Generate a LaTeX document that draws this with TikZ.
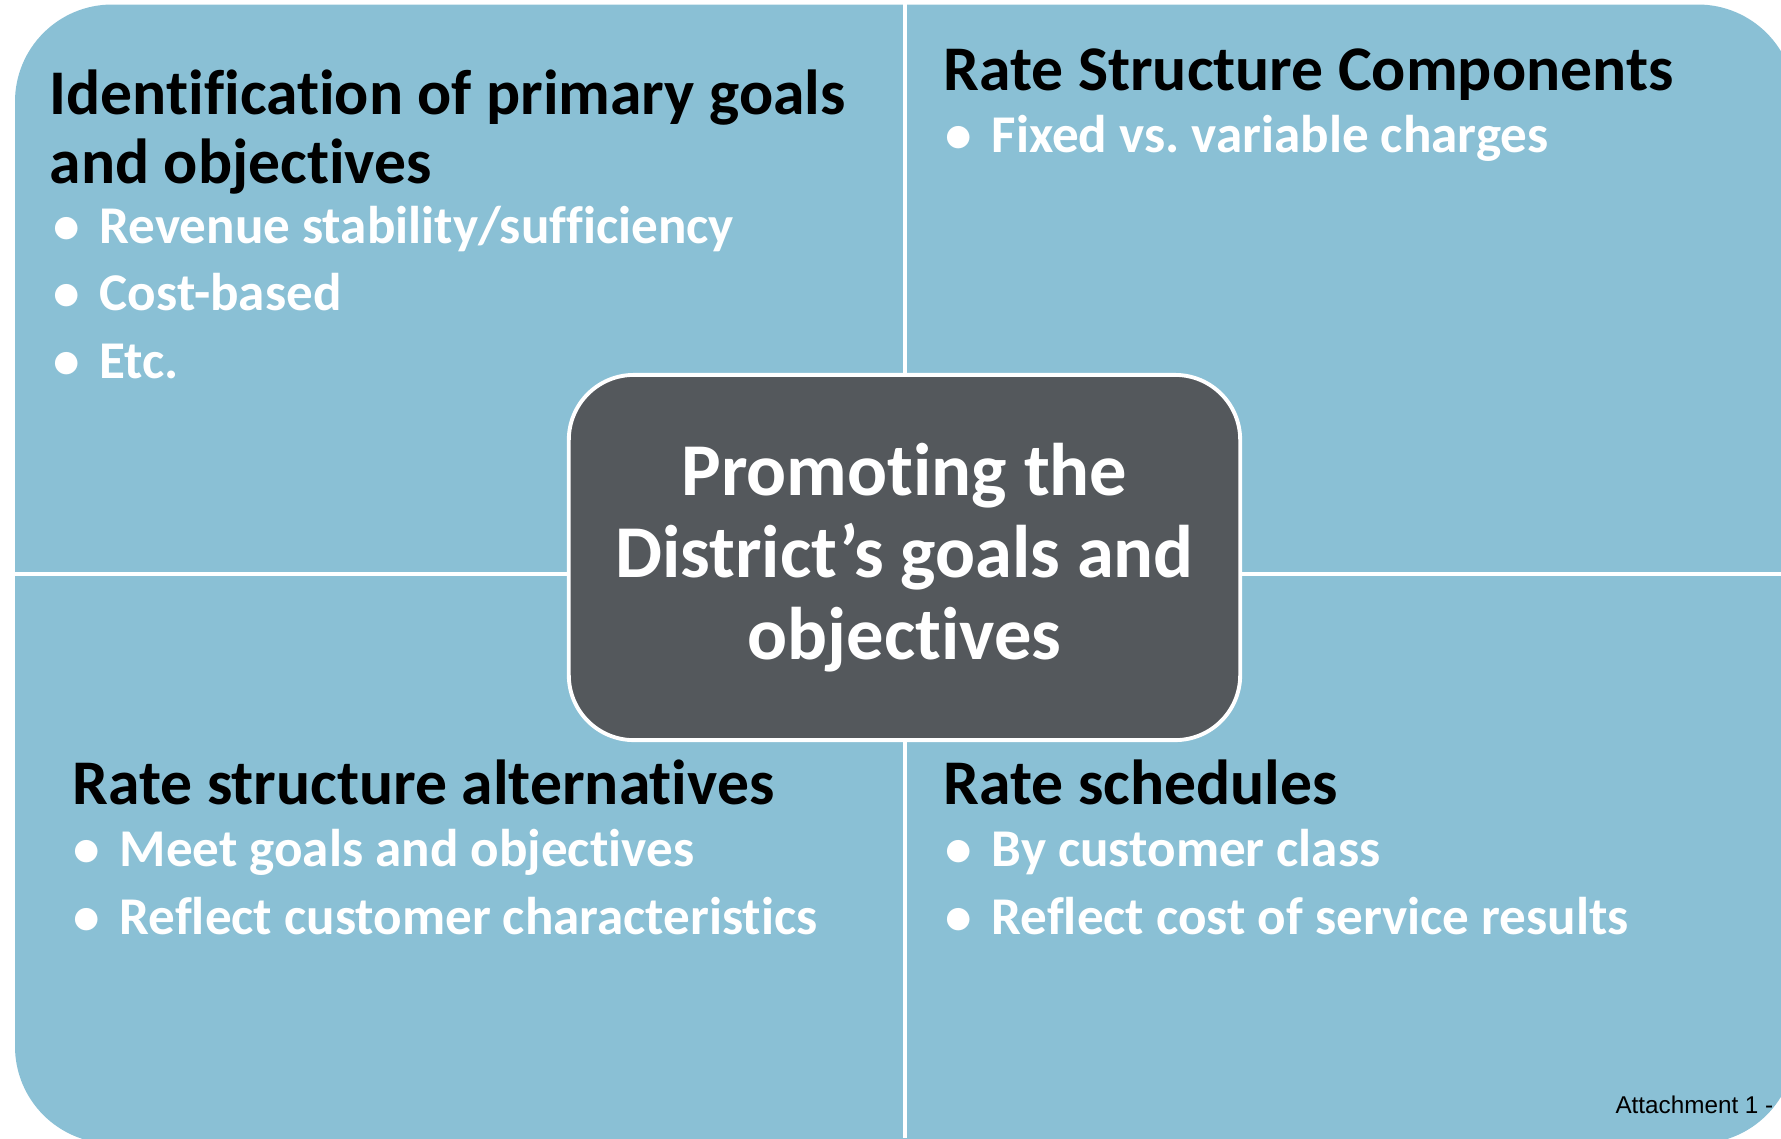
\documentclass[tikz,border=0pt]{standalone}
\usepackage{fontspec}
\setmainfont{Carlito}[Ligatures=NoCommon]
\newfontfamily\arialfont{Liberation Sans}
\usetikzlibrary{positioning}
\frenchspacing
\definecolor{quadblue}{HTML}{8AC0D5}
\definecolor{hubgray}{HTML}{54585C}
\newcommand{\itm}[1]{\makebox[0.46cm][l]{\textbullet}#1}
\tikzset{
  quad/.style={fill=quadblue, draw=none, rounded corners=0.97cm},
  gap/.style={draw=white, line width=1.4pt},
  head/.style={anchor=base west, inner sep=0pt, align=left, text=black,
    font=\fontsize{18.1pt}{19.35pt}\selectfont\bfseries},
  items/.style={anchor=base west, inner sep=0pt, align=left, text=white,
    font=\fontsize{15.1pt}{19.07pt}\selectfont\bfseries},
  hub/.style={rectangle, rounded corners=0.65cm, fill=hubgray, draw=white,
    line width=1.1pt, minimum width=6.71cm, minimum height=3.65cm, inner sep=0pt,
    align=center, text=white, font=\fontsize{21.2pt}{23.3pt}\selectfont\bfseries}
}

\begin{document}
\begin{tikzpicture}[x=0.01cm, y=-0.01cm]
\useasboundingbox (0,0) rectangle (1781,1138);
% four quadrants
\fill [quad] (15,4.5) rectangle (1795,1143.5);
\draw [gap] (905,0) -- (905,1138);
\draw [gap] (0,574) -- (1781,574);
% top left (base = last line)
\node [head] (goalsT) at (49,183) {Identification of primary goals\\and objectives};
\node [items] (goalsL) at (53,378) {\itm{Revenue stability/sufficiency}\\\itm{Cost-based}\\\itm{Etc.}};
% top right
\node [head] (compT) at (943,90) {Rate Structure Components};
\node [items] (compL) at (945,152) {\itm{Fixed vs. variable charges}};
% bottom left
\node [head] (altT) at (72,804) {Rate structure alternatives};
\node [items] (altL) at (73,934) {\itm{Meet goals and objectives}\\\itm{Reflect customer characteristics}};
% bottom right
\node [head] (schedT) at (943,804) {Rate schedules};
\node [items] (schedL) at (945,934) {\itm{By customer class}\\\itm{Reflect cost of service results}};
% centre
\node [hub] (hub) at (904.5,557.5) {Promoting the\\District’s goals and\\objectives};
\node [anchor=base east, inner sep=0pt, font=\arialfont\fontsize{6.9pt}{8pt}\selectfont] (attach) at (1774,1113) {Attachment 1 -};
\end{tikzpicture}
\end{document}
